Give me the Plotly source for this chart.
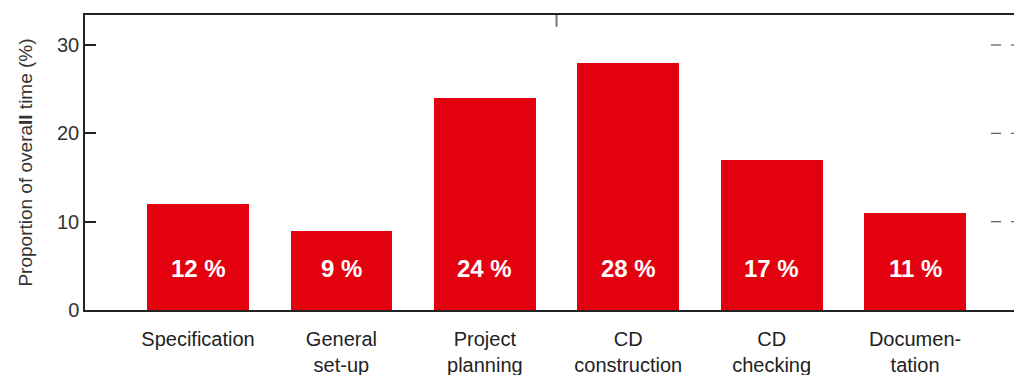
import plotly.graph_objects as go

# Share of overall time per work phase
phases = ["Specification", "General<br>set-up", "Project<br>planning",
          "CD<br>construction", "CD<br>checking", "Documen-<br>tation"]
share_pct = [12, 9, 24, 28, 17, 11]
y_ticks = [0, 10, 20, 30]

RED = "#E3000F"
INK = "#222222"
FONT = "Liberation Sans, Arial, sans-serif"

x_pos = list(range(len(phases)))

fig = go.Figure(
    go.Bar(
        x=x_pos,
        y=share_pct,
        width=0.71,
        marker=dict(color=RED, line=dict(width=0)),
        hoverinfo="skip",
    )
)

# value labels near the foot of each bar
for xi, v in zip(x_pos, share_pct):
    fig.add_annotation(
        x=xi, y=4.75, xref="x", yref="y",
        text=f"<b>{v} %</b>", showarrow=False,
        font=dict(family=FONT, size=24, color="white"),
    )

shapes = [
    # small centre tick hanging from the top frame line
    dict(type="line", xref="x", yref="paper", x0=2.5, x1=2.5, y0=1, y1=0.96,
         line=dict(color="#777777", width=2)),
]
# tick stubs of the neighbouring panel at the right edge
for t in y_ticks[1:]:
    shapes.append(dict(type="line", xref="x", yref="y", x0=5.53, x1=5.60, y0=t, y1=t,
                       line=dict(color="#555555", width=1.2)))
    shapes.append(dict(type="line", xref="x", yref="y", x0=5.67, x1=5.72, y0=t, y1=t,
                       line=dict(color="#555555", width=1.2)))

fig.update_layout(
    width=1014, height=375,
    margin=dict(l=85, r=0, t=15, b=65),
    paper_bgcolor="white", plot_bgcolor="white",
    showlegend=False,
    bargap=0,
    shapes=shapes,
    font=dict(family=FONT, color=INK),
    xaxis=dict(
        range=[-0.788, 5.69],
        tickmode="array", tickvals=x_pos, ticktext=phases,
        ticks="outside", ticklen=0,
        ticklabelstandoff=10,
        tickfont=dict(family=FONT, size=20, color=INK),
        showline=True, linecolor=INK, linewidth=1.5, mirror=True,
        showgrid=False, zeroline=False, fixedrange=True,
    ),
    yaxis=dict(
        range=[0, 33.4],
        tickmode="array", tickvals=y_ticks,
        ticks="inside", ticklen=11, tickwidth=1.5, tickcolor=INK,
        tickfont=dict(family=FONT, size=20, color="#333333"),
        showline=True, linecolor=INK, linewidth=1.5,
        showgrid=False, zeroline=False, fixedrange=True,
        title=dict(text="Proportion of overa<b>ll</b> time (%)",
                   font=dict(family=FONT, size=19, color="#333333"), standoff=19),
    ),
)

fig.write_html("out.html")
